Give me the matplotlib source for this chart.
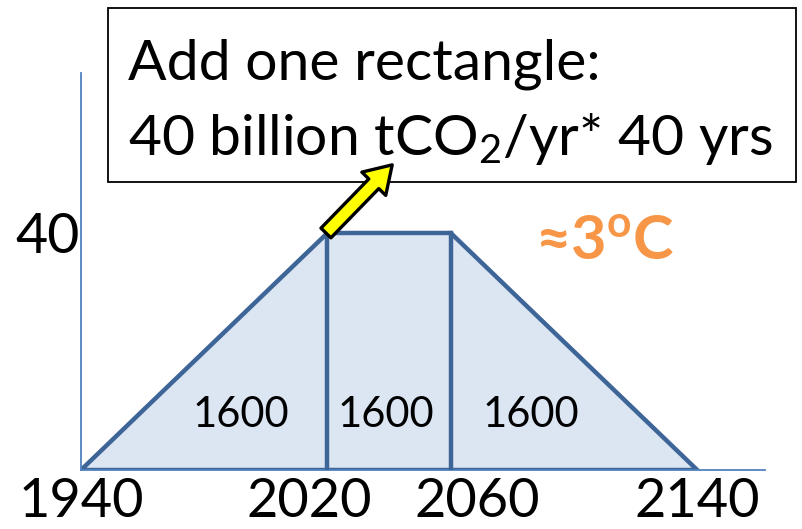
import matplotlib.pyplot as plt
from matplotlib.patches import Polygon, Rectangle
from matplotlib.transforms import ScaledTranslation

plt.rcParams['font.family'] = ['Lato', 'DejaVu Sans']
plt.rcParams['mathtext.fontset'] = 'custom'
plt.rcParams['mathtext.rm'] = 'Lato'
plt.rcParams['mathtext.it'] = 'Lato'
plt.rcParams['mathtext.bf'] = 'Lato:bold'

# emissions pathway: ramp up, plateau, ramp down (billion tCO2/yr)
years = [1940, 2020, 2060, 2140]
emissions = [0, 40, 40, 0]
split_years = [2020, 2060]
areas = [1600, 1600, 1600]
area_label_x = [1992, 2039, 2086]
area_label_y = 9.3
peak_label = '40'
warming = '≈3$^{\\mathregular{o}}$C'

FILL = '#dce6f2'
EDGE = '#3e6598'
AXIS = '#4f81bd'

fig = plt.figure(figsize=(8.02, 5.29), dpi=100)
W, H = 802, 529
ax = fig.add_axes([81 / W, (H - 470) / H, (765 - 81) / W, (470 - 73) / H])
ax.set_xlim(1940, 2162)
ax.set_ylim(0, 67)
ax.patch.set_visible(False)

for side in ('top', 'right'):
    ax.spines[side].set_visible(False)
for side in ('left', 'bottom'):
    ax.spines[side].set_color(AXIS)
    ax.spines[side].set_linewidth(1.3)

shape = Polygon(list(zip(years, emissions)), closed=True, facecolor=FILL,
                edgecolor=EDGE, linewidth=3.2, joinstyle='miter', zorder=2)
ax.add_patch(shape)
for yr in split_years:
    ax.plot([yr, yr], [0, 40], color=EDGE, lw=3.2, zorder=3)

for x, a in zip(area_label_x, areas):
    ax.text(x, area_label_y, str(a), ha='center', va='center', fontsize=30, zorder=4)

ax.set_xticks(years)
ax.set_xticklabels([str(y) for y in years], fontsize=39)
ax.set_yticks([40])
ax.set_yticklabels([peak_label], fontsize=40)
ax.tick_params(axis='x', length=0, pad=5)
ax.tick_params(axis='y', length=0, pad=1)
shifts = [0, -18, 27, 0]
for lbl, dx in zip(ax.get_xticklabels(), shifts):
    lbl.set_transform(lbl.get_transform() + ScaledTranslation(dx / 100, 0, fig.dpi_scale_trans))

ax.text(2110, 38.6, warming, color='#f79646', fontsize=44, fontweight='bold',
        ha='center', va='center')

ax.annotate('', xy=(2041, 51.5), xytext=(2019.5, 40),
            arrowprops=dict(arrowstyle='simple,head_length=0.95,head_width=1.2,tail_width=0.5',
                            mutation_scale=20, fc='#ffff00', ec='black', lw=2.4,
                            shrinkA=0, shrinkB=0), zorder=5)

# note box above the plateau, kept under the axes so the arrow tip overlaps it
fig.patches.append(Rectangle((108 / W, (H - 182) / H), (796 - 108) / W, (182 - 8) / H,
                             transform=fig.transFigure, facecolor='white',
                             edgecolor='black', lw=1.3, zorder=-1))
fig.text(128 / W, (H - 80) / H, 'Add one rectangle:', fontsize=41, va='baseline')
fig.text(128 / W, (H - 155) / H, '40 billion tCO$_2$/yr* 40 yrs', fontsize=41, va='baseline')

fig.savefig('out.png', dpi=100)
